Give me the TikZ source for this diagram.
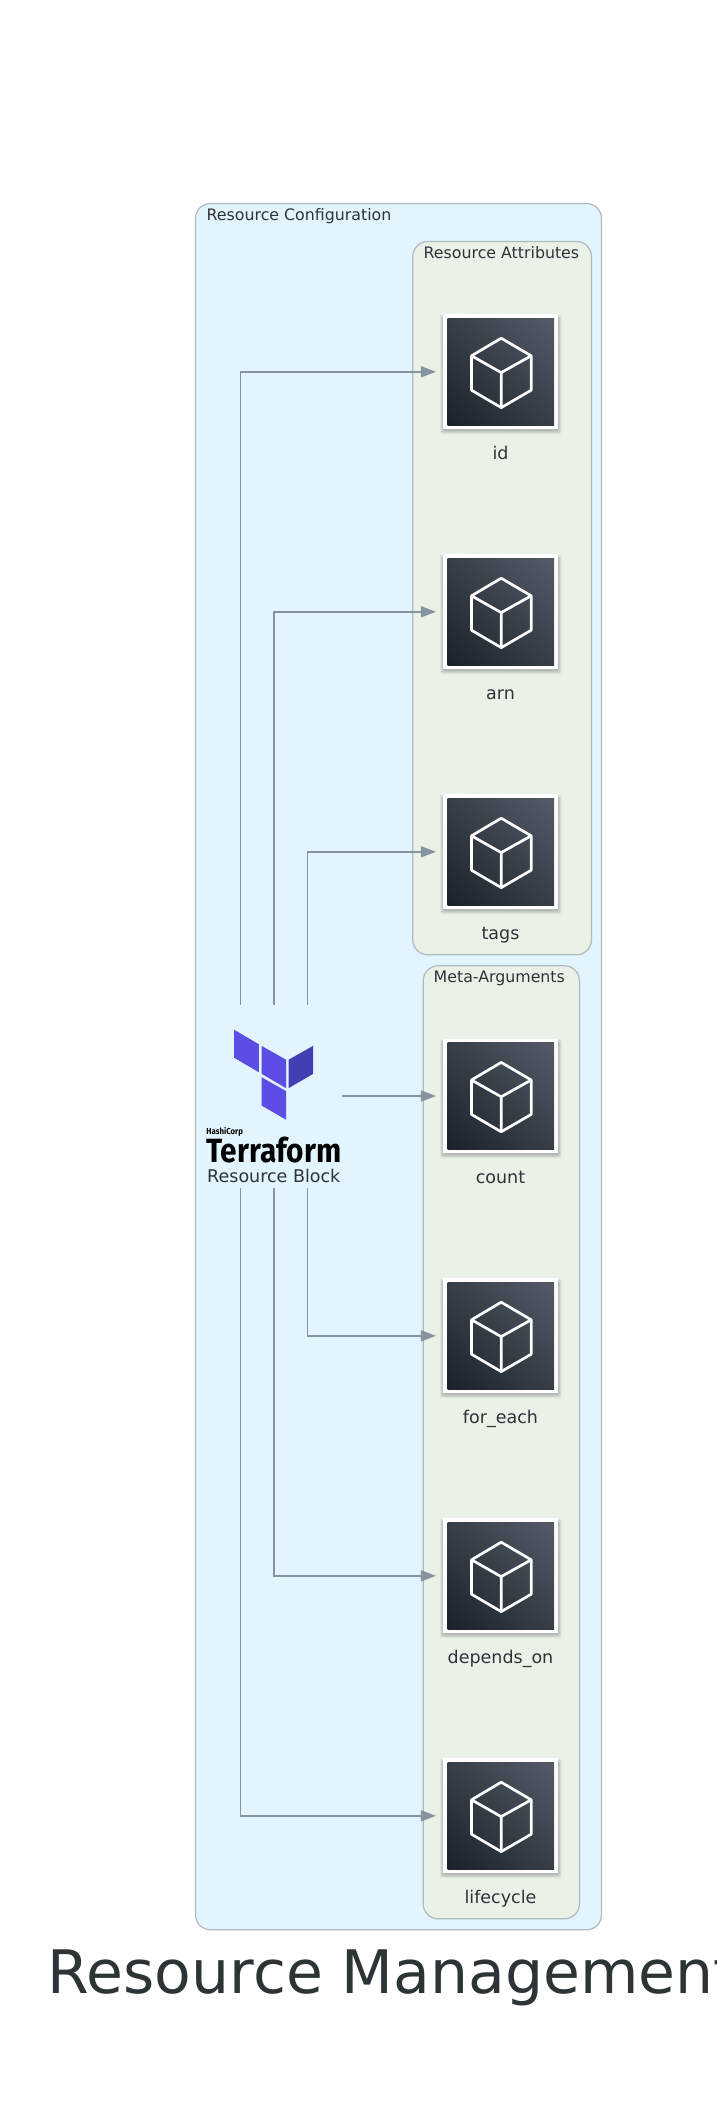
\documentclass[tikz,border=0pt]{standalone}
\usepackage{fontspec}
\setmainfont{DejaVu Sans}
\newfontfamily\logofont{Fira Sans}
\usetikzlibrary{arrows.meta,calc,shadings}
\definecolor{inktext}{HTML}{2D3436}
\definecolor{clusterline}{HTML}{AEB9C0}
\definecolor{outerfill}{HTML}{E2F4FD}
\definecolor{innerfill}{HTML}{EAF2E7}
\definecolor{connline}{HTML}{8693A1}
\definecolor{tfpurple}{HTML}{5C4EE5}
\definecolor{tfdark}{HTML}{4040B2}
\definecolor{icdark}{HTML}{1A212B}
\definecolor{icmid}{HTML}{363E48}
\definecolor{iclight}{HTML}{555C68}
\tikzset{
  x=1pt,y=-1pt,
  cluster/.style={draw=clusterline,line width=1.2pt,rounded corners=15pt},
  clusterlabel/.style={font=\fontsize{15.8}{18}\selectfont,text=inktext,inner sep=0pt,anchor=base west},
  iconframe/.style={draw=none,fill=white,minimum size=114.7pt,inner sep=0pt,outer sep=7.5pt},
  iconlabel/.style={font=\fontsize{17.5}{20}\selectfont,text=inktext,inner sep=0pt,anchor=base},
  conn/.style={draw=connline,line width=1.5pt,-{Triangle[length=15pt,width=11pt,fill=connline]}},
  cubeline/.style={draw=white,line width=2.7pt,line join=round},
  softshadow/.style={fill=black,opacity=.06,rounded corners=2pt}
}
% #1 name, #2 center y, #3 label
\newcommand{\resicon}[3]{%
  \fill[softshadow] (439.5,#2-57) rectangle (561,#2+62);
  \fill[softshadow] (440.5,#2-56) rectangle (560,#2+61);
  \fill[softshadow] (441.5,#2-55.5) rectangle (559,#2+60);
  \fill[softshadow] (442.5,#2-55) rectangle (558.5,#2+59);
  \node[iconframe] (#1) at (500.3,#2) {};
  \shade[lower left=icdark,upper right=iclight,upper left=icmid,lower right=icmid]
    (447,#2-53.2) rectangle (553.7,#2+53.2);
  \draw[cubeline] (500.7,#2-33.6) -- (530.7,#2-16) -- (530.7,#2+18.4) -- (500.7,#2+35.8)
     -- (471,#2+18.4) -- (471,#2-16) -- cycle;
  \draw[cubeline] (471,#2-16) -- (500.7,#2+.8) -- (530.7,#2-16) (500.7,#2+.8) -- (500.7,#2+35.8);
  \node[iconlabel] (#1label) at (500,#2+87.4) {#3};
}
\begin{document}
\begin{tikzpicture}
\useasboundingbox (-.5,-.5) rectangle (715.5,2119.5);
\fill[white] (-.5,-.5) rectangle (715.5,2119.5);
\clip (-.5,-.5) rectangle (715.5,2119.5);
\draw[cluster,fill=outerfill] (195,203) rectangle (601,1929.3);
\draw[cluster,fill=innerfill] (412.3,241) rectangle (591,954.3);
\draw[cluster,fill=innerfill] (422.7,965.3) rectangle (579,1918.3);
\node[clusterlabel] (cfg) at (206,220.4) {Resource Configuration};
\node[clusterlabel] (attr) at (423,258) {Resource Attributes};
\node[clusterlabel] (meta) at (433,981.5) {Meta-Arguments};
\resicon{id}{371.3}{id}
\resicon{arn}{611.3}{arn}
\resicon{tags}{851.3}{tags}
\resicon{count}{1095.5}{count}
\resicon{foreach}{1335.3}{for\_each}
\resicon{dependson}{1575.3}{depends\_on}
\resicon{lifecycle}{1815.3}{lifecycle}
% Terraform logo
\node[minimum width=135pt,minimum height=183pt,inner sep=0pt,outer sep=0pt] (tf) at (273.5,1095.5) {};
\fill[tfpurple] (233.7,1029.3) -- (258.3,1043.7) -- (258.3,1071.7) -- (233.7,1057.3) -- cycle;
\fill[tfpurple] (261,1045.3) -- (285.7,1059.3) -- (285.7,1087.7) -- (261,1073.3) -- cycle;
\fill[tfdark] (288,1059.3) -- (312.7,1045.3) -- (312.7,1073.3) -- (288,1087.7) -- cycle;
\fill[tfpurple] (261,1076.7) -- (285.7,1090.7) -- (285.7,1119.3) -- (261,1105) -- cycle;
\node[inner sep=0pt,anchor=north west] (hashi) at (205.7,1126.5) {\resizebox{36.5pt}{7pt}{\logofont\bfseries HashiCorp}};
\node[inner sep=0pt,anchor=north west] (tfword) at (205.7,1136.5) {\resizebox{135pt}{25.5pt}{\logofont\bfseries Terraform}};
\node[iconlabel] (tflabel) at (273.3,1181.5) {Resource Block};
% connectors
\coordinate (tna) at ($(tf.north)+(-33.3,0)$);
\coordinate (tnc) at ($(tf.north)+(33.3,0)$);
\coordinate (tsa) at ($(tf.south)+(-33.3,0)$);
\coordinate (tsc) at ($(tf.south)+(33.3,0)$);
\draw[conn] (tna) |- (id.west);
\draw[conn] (tf.north) |- (arn.west);
\draw[conn] (tnc) |- (tags.west);
\draw[conn] (tf.east) -- (count.west);
\draw[conn] (tsc) |- (foreach.west);
\draw[conn] (tf.south) |- (dependson.west);
\draw[conn] (tsa) |- (lifecycle.west);
% title
\node[font=\fontsize{60}{70}\selectfont,text=inktext,inner sep=0pt,anchor=base west] (title) at (47,1993) {Resource Management};
\end{tikzpicture}
\end{document}
